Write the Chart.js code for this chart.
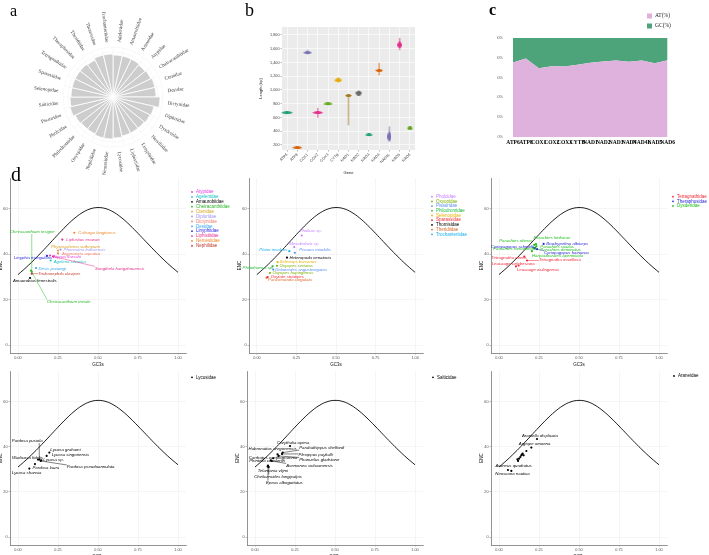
<!DOCTYPE html>
<html>
<head>
<meta charset="utf-8">
<script src="https://cdn.jsdelivr.net/npm/chart.js@4.4.1/dist/chart.umd.min.js"></script>
<style>
body { margin: 0; background: #fff; }
#page { position: relative; width: 709px; height: 555px; overflow: hidden; background: #fff; }
canvas { position: absolute; }
.tag { position: absolute; z-index: 5; font-family: "Liberation Serif", serif; color: #000; line-height: 1; }
</style>
</head>
<body>
<div id="page">
  <div class="tag" style="left:10px;top:3px;font-size:16px">a</div>
  <div class="tag" style="left:245px;top:1px;font-size:18px">b</div>
  <div class="tag" style="left:489px;top:2px;font-size:16px;font-weight:bold">c</div>
  <div class="tag" style="left:11px;top:164px;font-size:20px">d</div>
</div>
<script>
// ---- panel a: families ----
var spiderFamilies = ["Agelenidae", "Amaurobiidae", "Araneidae", "Atypidae", "Cheiracanthiidae", "Ctenidae",
    "Desidae", "Dictynidae", "Dipluridae", "Dysderidae", "Hersiliidae", "Linyphiidae", "Liphistiidae",
    "Lycosidae", "Nemesiidae", "Nephilidae", "Oxyopidae", "Philodromidae", "Pholcidae", "Pisauridae",
    "Salticidae", "Selenopidae", "Sparassidae", "Tetragnathidae", "Theraphosidae", "Theridiidae",
    "Thomisidae", "Trochanteriidae"];
var familyBarValues = [42, 42, 42, 41, 42, 43, 43, 47, 42, 41, 40, 40, 40, 41, 42, 42, 41, 41, 42, 44,
    43, 42, 42, 42, 42, 41, 43, 43];

// ---- panel b: gene lengths ----
var genes = ["ATP6", "ATP8", "COX1", "COX2", "COX3", "CYTB", "NAD1", "NAD2", "NAD3", "NAD4", "NAD4L", "NAD5", "NAD6"];
var lengthMedian = [670, 161, 1543, 670, 797, 1141, 918, 956, 346, 1286, 321, 1655, 443];
var lengthMin = [650, 150, 1520, 600, 780, 1110, 491, 930, 330, 1218, 273, 1582, 430];
var lengthMax = [690, 172, 1580, 733, 810, 1180, 935, 990, 365, 1390, 467, 1752, 470];
var lengthTicks = [200, 400, 600, 800, 1000, 1200, 1400, 1600, 1800];

// ---- panel c: base composition ----
var atPercent = [75.3, 79.3, 69.5, 71.5, 71.2, 72.9, 74.9, 76.3, 77.3, 75.9, 77.3, 74.6, 77.6];
var gcPercent = [24.7, 20.7, 30.5, 28.5, 28.8, 27.1, 25.1, 23.7, 22.7, 24.1, 22.7, 25.4, 22.4];
var percentTicks = [0, 20, 40, 60, 80, 100];

// ---- panel d: expected ENC curve and species ----
var gc3Curve = [0, 0.05, 0.1, 0.15, 0.2, 0.25, 0.3, 0.35, 0.4, 0.45, 0.5, 0.55, 0.6, 0.65, 0.7, 0.75, 0.8, 0.85, 0.9, 0.95, 1];
var encCurve = [31.0, 34.09, 37.47, 41.08, 44.85, 48.65, 52.3, 55.56, 58.17, 59.88, 60.5, 59.98, 58.37, 55.86,
    52.7, 49.15, 45.45, 41.78, 38.27, 34.99, 32.0];
var gc3Ticks = [0, 0.25, 0.5, 0.75, 1];
var encTicks = [0, 20, 40, 60];

var tlFamilies = ["Atypidae", "Agelenidae", "Amaurobiidae", "Cheiracanthiidae", "Ctenidae", "Dipluridae",
    "Dictynidae", "Desidae", "Linyphiidae", "Liphistiidae", "Nemesiidae", "Nephilidae"];
var tlSpecies = ["Calisoga longitarsis", "Liphistius erawan", "Phyxioschema suthepium", "Phoneutria boliviensis",
    "Argyroneta aquatica", "Atypus karschi", "Linyphia triangularis", "Agelena silvatica", "Songthela hangzhouensis",
    "Desis jiaxiangi", "Trichonephila clavipes", "Amaurobius fenestralis", "Cheiracanthium insigne",
    "Cheiracanthium triviale"];
var tlFamilyOf = [10, 9, 4, 5, 6, 0, 8, 1, 9, 7, 11, 2, 3, 3];
var tlGC3s = [0.352, 0.277, 0.25, 0.266, 0.25, 0.2, 0.181, 0.204, 0.219, 0.1125, 0.086, 0.075, 0.086, 0.081];
var tlENC = [49.4, 46.4, 41.6, 42.0, 40.3, 39.4, 39.2, 37.2, 39.0, 33.9, 31.4, 29.5, 32.2, 32.8];

var tmFamilies = ["Pholcidae", "Oxyopidae", "Pisauridae", "Philodromidae", "Selenopidae", "Sparassidae",
    "Thomisidae", "Theridiidae", "Trochanteriidae"];
var tmSpecies = ["Pholcus sp.", "Mesabolivar sp.", "Pisaura mirabilis", "Plator insolens", "Heteropoda venatoria",
    "Selenops bursarius", "Oxyopes sertatus", "Philodromus sp.", "Dolomedes angustivirgatus", "Oxyopes hupingensis",
    "Oxytate striatipes", "Parasteatoda cingulata"];
var tmFamilyOf = [0, 0, 2, 8, 6, 4, 1, 3, 2, 1, 5, 7];
var tmGC3s = [0.283, 0.236, 0.24, 0.205, 0.19, 0.131, 0.127, 0.099, 0.103, 0.082, 0.068, 0.061];
var tmENC = [48.2, 43.1, 40.6, 41.3, 38.5, 36.5, 34.9, 34.6, 33.2, 31.7, 29.9, 29.6];

var trFamilies = ["Tetragnathidae", "Theraphosidae", "Dysderidae"];
var trSpecies = ["Brachypelma albiceps", "Cyriopagopus schmidti", "Cyriopagopus hainanus", "Parachtes riberai",
    "Parachtes limbarae", "Parachtes romandiolae", "Parachtes siculus", "Parachtes deminutus",
    "Harpactocrates apennicola", "Tetragnatha maxillosa", "Tetragnatha nitens", "Leucauge celebesiana",
    "Leucauge wulingensis"];
var trFamilyOf = [1, 1, 1, 2, 2, 2, 2, 2, 2, 0, 0, 0, 0];
var trGC3s = [0.279, 0.223, 0.2375, 0.22, 0.231, 0.214, 0.233, 0.227, 0.206, 0.175, 0.158, 0.123, 0.106];
var trENC = [44.5, 42.6, 42.2, 44.1, 44.4, 42.8, 43.5, 42.8, 41.3, 37.2, 38.9, 35.0, 34.6];

var blFamilies = ["Lycosidae"];
var blSpecies = ["Pardosa pusiola", "Lycosa grahami", "Lycosa singoriensis", "Lycosa sp.", "Wadicosa fidelis",
    "Pardosa laura", "Pardosa pseudoannulata", "Lycosa shansia"];
var blGC3s = [0.133, 0.196, 0.179, 0.146, 0.125, 0.106, 0.142, 0.071];
var blENC = [34.3, 37.4, 35.9, 34.0, 34.3, 32.3, 33.7, 30.3];

var bmFamilies = ["Salticidae"];
var bmSpecies = ["Corythalia opima", "Parabathippus shelfordi", "Habronattus oregonensis", "Plexippus paykulli",
    "Phanuelus gladstone", "Carrhotus xanthogramma", "Phintella cavaleriei", "Asemonea sichuanensis",
    "Telamonia vlijmi", "Cheliceroides longipalpis", "Epeus alboguttatus"];
var bmGC3s = [0.219, 0.173, 0.141, 0.169, 0.148, 0.114, 0.098, 0.104, 0.079, 0.086, 0.081];
var bmENC = [40.3, 37.4, 36.6, 36.8, 35.9, 34.9, 34.0, 33.7, 31.2, 31.0, 31.6];

var brFamilies = ["Araneidae"];
var brSpecies = ["Araniella displicata", "Argiope amoena", "", "", "", "", "", "", "", "", "",
    "Araneus quadratus", "Neoscona nautica"];
var brGC3s = [0.2375, 0.202, 0.171, 0.154, 0.148, 0.144, 0.139, 0.133, 0.125, 0.119, 0.115, 0.056, 0.077];
var brENC = [43.4, 39.6, 38.1, 36.2, 36.9, 36.6, 36.2, 35.4, 34.7, 33.7, 34.4, 29.7, 29.3];

// ---- styles and label placement ----
var dark2 = ["#1B9E77", "#D95F02", "#7570B3", "#E7298A", "#66A61E", "#E6AB02", "#A6761D", "#666666"];
var violinSize = [[12, 3], [10, 3], [9, 3], [11, 3], [10, 3], [8, 4], [7, 3], [7, 5], [8, 3], [8, 3], [4, 11], [5, 7], [6, 4]];
var tlColors = ["#E23DE0", "#1FC0C4", "#000000", "#2DB82D", "#D9A020", "#A597F2", "#F07C70", "#33A6EE",
    "#2A2AE0", "#E5308A", "#EE8A30", "#C0392B"];
var tmColors = ["#C77CFF", "#7CAE00", "#5C8FF0", "#1DB83C", "#E3B400", "#F02C3C", "#000000", "#D96A2B", "#16AEEA"];
var trColors = ["#F02B3A", "#2626D6", "#22C022"];
var tlShift = [[4, 0], [4, 0], [-7, -4], [3, 0], [4, 0], [3, 1], [-33, 2], [3, 1], [42, 12], [2.5, 0.5],
    [6.5, 0.5], [-17, 3], [-22, -40], [16, 31]];
var tmShift = [[-2, -4.5], [-5, -3.5], [4.5, -2.5], [-30, -1.5], [2.5, 0], [2, 0], [2.5, 0], [-30, 1.5],
    [2, 0], [2.5, 0], [3, 0], [1.5, 2.5]];
var trShift = [[2.5, 0], [-44, -1], [7, 3.5], [-35, -4.5], [-2.5, -6.5], [-40, 1.5], [4, 0.5], [5, 2],
    [0, 4.5], [12, -0.5], [-33, 1.5], [-27, -1.5], [1, 3.5]];
var blShift = [[-27.5, -18.5], [1, -2.5], [5, -1.5], [2, -0.5], [-26, -1.5], [-2.5, 3.5], [26, 6], [-17.5, 4]];
var bmShift = [[-13, -3.5], [16.5, -4.5], [-29, -6], [16.5, 0.5], [20.5, 3.5], [-24.5, -0.5], [-21.5, 0.5],
    [14.5, 4.5], [-10, 4], [-14.5, 9.5], [-2, 17]];
var brShift = [[-15, -3], [-12.5, -4], [0, 0], [0, 0], [0, 0], [0, 0], [0, 0], [0, 0], [0, 0], [0, 0], [0, 0],
    [-12.5, -4.5], [-16, 2.5]];

Chart.defaults.font.family = '"Liberation Sans", Arial, sans-serif';
Chart.defaults.animation = false;
Chart.defaults.plugins.legend.display = false;
Chart.defaults.plugins.tooltip.enabled = false;

function addCanvas(left, top, w, h) {
    var c = document.createElement("canvas");
    c.width = w;
    c.height = h;
    c.style.left = left + "px";
    c.style.top = top + "px";
    c.style.width = w + "px";
    c.style.height = h + "px";
    document.getElementById("page").appendChild(c);
    return c;
}

function withAlpha(hex, a) {
    var n = parseInt(hex.slice(1), 16);
    return "rgba(" + (n >> 16) + "," + ((n >> 8) & 255) + "," + (n & 255) + "," + a + ")";
}

// ---------------- panel a ----------------
var radialLabels = {
    id: "radialLabels",
    afterDraw: function (chart) {
        var r = chart.scales.r, ctx = chart.ctx;
        var n = chart.data.labels.length, step = 2 * Math.PI / n;
        ctx.save();
        ctx.font = '5px "Liberation Serif", serif';
        ctx.fillStyle = "#3a3a3a";
        ctx.textBaseline = "middle";
        chart.data.labels.forEach(function (lab, i) {
            var th = (i + 0.5) * step;
            var rad = r.drawingArea * 1.1;
            ctx.save();
            ctx.translate(r.xCenter + Math.sin(th) * rad, r.yCenter - Math.cos(th) * rad);
            if (th < Math.PI) {
                ctx.rotate(th - Math.PI / 2);
                ctx.textAlign = "left";
            } else {
                ctx.rotate(th - 1.5 * Math.PI);
                ctx.textAlign = "right";
            }
            ctx.fillText(lab, 0, 0);
            ctx.restore();
        });
        ctx.restore();
    }
};

new Chart(addCanvas(13, 12, 200, 170), {
    type: "polarArea",
    data: {
        labels: spiderFamilies,
        datasets: [{
            data: familyBarValues,
            backgroundColor: "#CDCDCD",
            borderColor: "#FFFFFF",
            borderWidth: 0.8
        }]
    },
    options: {
        responsive: false,
        startAngle: 0,
        layout: { padding: { left: 50, right: 50, top: 35, bottom: 35 } },
        scales: {
            r: {
                min: 0,
                max: 50,
                startAngle: 0,
                ticks: { display: false },
                grid: { color: "#F0F0F0", lineWidth: 0.5 },
                angleLines: { display: true, color: "#F0F0F0", lineWidth: 0.5 },
                pointLabels: { display: false }
            }
        }
    },
    plugins: [radialLabels]
});

// ---------------- panel b ----------------
function violinShape(color, w, h) {
    var c = document.createElement("canvas");
    c.width = w;
    c.height = h;
    var g = c.getContext("2d");
    g.fillStyle = color;
    g.beginPath();
    if (w >= h) {
        g.moveTo(0, h / 2);
        g.quadraticCurveTo(w / 2, -h / 2, w, h / 2);
        g.quadraticCurveTo(w / 2, 1.5 * h, 0, h / 2);
    } else {
        g.moveTo(w / 2, 0);
        g.quadraticCurveTo(1.5 * w, h / 2, w / 2, h);
        g.quadraticCurveTo(-w / 2, h / 2, w / 2, 0);
    }
    g.fill();
    return c;
}

var geneColors = genes.map(function (g, i) { return dark2[i % dark2.length]; });
var violins = genes.map(function (g, i) {
    return violinShape(geneColors[i], violinSize[i][0], violinSize[i][1]);
});

var panelBackground = {
    id: "panelBackground",
    beforeDraw: function (chart, args, opts) {
        var a = chart.chartArea, ctx = chart.ctx;
        ctx.save();
        ctx.fillStyle = opts.color;
        ctx.fillRect(a.left, a.top, a.right - a.left, a.bottom - a.top);
        ctx.restore();
    }
};

new Chart(addCanvas(258, 22, 162, 153), {
    type: "bar",
    data: {
        labels: genes,
        datasets: [
            {
                type: "bar",
                data: genes.map(function (g, i) { return [lengthMin[i], lengthMax[i]]; }),
                backgroundColor: geneColors.map(function (c) { return withAlpha(c, 0.5); }),
                borderWidth: 0,
                barThickness: 1,
                order: 2
            },
            {
                type: "line",
                data: lengthMedian,
                showLine: false,
                pointStyle: violins,
                pointRadius: 3,
                order: 1
            }
        ]
    },
    options: {
        responsive: false,
        layout: { padding: { left: 0, right: 5, top: 5, bottom: 0 } },
        plugins: { panelBackground: { color: "#EBEBEB" } },
        scales: {
            x: {
                grid: { color: "#FFFFFF", lineWidth: 0.6, offset: false, drawTicks: true, tickLength: 1.5, tickColor: "#888" },
                border: { display: false },
                ticks: { font: { size: 3.8 }, color: "#444", minRotation: 45, maxRotation: 45, autoSkip: false, padding: 1 },
                title: { display: true, text: "Gene", font: { size: 4 }, color: "#222", padding: { top: 1, bottom: 0 } },
                afterFit: function (s) { s.height = 25; }
            },
            y: {
                min: 127,
                max: 1916,
                afterBuildTicks: function (s) { s.ticks = lengthTicks.map(function (v) { return { value: v }; }); },
                grid: { color: "#FFFFFF", lineWidth: 0.6, tickLength: 1.5, tickColor: "#888" },
                border: { display: false },
                ticks: { font: { size: 3.8 }, color: "#444", padding: 1 },
                title: { display: true, text: "Length (bp)", font: { size: 4 }, color: "#222", padding: 0 },
                afterFit: function (s) { s.width = 24; }
            }
        }
    },
    plugins: [panelBackground]
});

// ---------------- panel c ----------------
var stackLegend = {
    id: "stackLegend",
    afterDraw: function (chart, args, opts) {
        var ctx = chart.ctx;
        ctx.save();
        ctx.font = '5.5px "Liberation Serif", serif';
        ctx.textBaseline = "middle";
        chart.data.datasets.forEach(function (ds, i) {
            var y = opts.y0 + i * opts.step;
            ctx.fillStyle = ds.backgroundColor;
            ctx.fillRect(opts.x, y - 2.5, 5, 5);
            ctx.fillStyle = "#222";
            ctx.fillText(ds.label, opts.x + 8, y);
        });
        ctx.restore();
    }
};

new Chart(addCanvas(497, 10, 180, 137), {
    type: "line",
    data: {
        labels: genes,
        datasets: [
            { label: "AT(%)", data: atPercent, fill: "origin", backgroundColor: "#DFB2DD", borderWidth: 0, pointRadius: 0, tension: 0 },
            { label: "GC(%)", data: gcPercent, fill: "-1", backgroundColor: "#4DA47B", borderWidth: 0, pointRadius: 0, tension: 0 }
        ]
    },
    options: {
        responsive: false,
        layout: { padding: { left: 0, right: 4, top: 28, bottom: 0 } },
        plugins: { stackLegend: { x: 150, y0: 6, step: 10 } },
        scales: {
            x: {
                z: 1,
                grid: { color: "rgba(255,255,255,0.95)", lineWidth: 1, drawTicks: false },
                border: { display: false, dash: [3, 2] },
                ticks: { font: { family: '"Liberation Serif", serif', size: 5.5, weight: "bold" }, color: "#000", maxRotation: 0, autoSkip: false, padding: 2 },
                afterFit: function (s) { s.height = 10; }
            },
            y: {
                stacked: true,
                min: 0,
                max: 100,
                afterBuildTicks: function (s) { s.ticks = percentTicks.map(function (v) { return { value: v }; }); },
                grid: { display: false },
                border: { display: false },
                ticks: { font: { size: 3.8 }, color: "#666", padding: 2, callback: function (v) { return v + "%"; } },
                afterFit: function (s) { s.width = 16; }
            }
        }
    },
    plugins: [stackLegend]
});

// ---------------- panel d ----------------
var speciesLabels = {
    id: "speciesLabels",
    afterDatasetsDraw: function (chart) {
        var ctx = chart.ctx;
        ctx.save();
        ctx.font = 'italic 4.3px "Liberation Sans", Arial, sans-serif';
        ctx.textBaseline = "middle";
        chart.data.datasets.forEach(function (ds, d) {
            if (!ds.names) return;
            chart.getDatasetMeta(d).data.forEach(function (pt, j) {
                var name = ds.names[j];
                if (!name) return;
                var tx = pt.x + ds.shifts[j][0], ty = pt.y + ds.shifts[j][1];
                var w = ctx.measureText(name).width;
                var cx = Math.min(Math.max(pt.x, tx), tx + w);
                var cy = Math.min(Math.max(pt.y, ty - 2), ty + 2);
                if (Math.hypot(cx - pt.x, cy - pt.y) > 6) {
                    ctx.strokeStyle = ds.backgroundColor;
                    ctx.lineWidth = 0.5;
                    ctx.beginPath();
                    ctx.moveTo(pt.x, pt.y);
                    ctx.lineTo(cx, cy);
                    ctx.stroke();
                }
                ctx.fillStyle = ds.backgroundColor;
                ctx.fillText(name, tx, ty);
            });
        });
        ctx.restore();
    }
};

var sideLegend = {
    id: "sideLegend",
    afterDraw: function (chart, args, opts) {
        var ctx = chart.ctx, x = chart.chartArea.right + opts.dx;
        ctx.save();
        ctx.font = '4.5px "Liberation Sans", Arial, sans-serif';
        ctx.textBaseline = "middle";
        opts.items.forEach(function (it, i) {
            var y = opts.y0 + i * opts.step;
            ctx.fillStyle = it.color;
            ctx.beginPath();
            ctx.arc(x, y, 0.9, 0, Math.PI * 2);
            ctx.fill();
            ctx.fillText(it.text, x + 4, y);
        });
        ctx.restore();
    }
};

function scatterPanel(p) {
    var left = p.box.l - 12, top = p.box.t - 3;
    var canvas = addCanvas(left, top, p.right - left, p.box.b + 14 - top);
    var datasets = [{
        label: "expected",
        data: gc3Curve.map(function (g, i) { return { x: g, y: encCurve[i] }; }),
        showLine: true,
        borderColor: "#1E1E1E",
        borderWidth: 1,
        pointRadius: 0,
        tension: 0.4,
        order: 2
    }];
    p.families.forEach(function (f, k) {
        var idx = p.species.map(function (s, i) { return i; })
            .filter(function (i) { return (p.familyOf ? p.familyOf[i] : 0) === k; });
        datasets.push({
            label: f,
            data: idx.map(function (i) { return { x: p.gc3s[i], y: p.enc[i] }; }),
            names: idx.map(function (i) { return p.species[i]; }),
            shifts: idx.map(function (i) { return p.shift[i]; }),
            backgroundColor: p.colors[k],
            borderWidth: 0,
            pointRadius: 1.1,
            order: 1
        });
    });
    new Chart(canvas, {
        type: "scatter",
        data: { datasets: datasets },
        options: {
            responsive: false,
            layout: { padding: { left: 0, top: 3, right: p.right - p.box.r, bottom: 0 } },
            plugins: {
                sideLegend: {
                    dx: p.legend.dx,
                    y0: p.legend.y0 - top,
                    step: p.legend.step,
                    items: p.families.map(function (f, k) { return { text: f, color: p.colors[k] }; })
                }
            },
            scales: {
                x: {
                    type: "linear",
                    min: -0.05,
                    max: 1.05,
                    afterBuildTicks: function (s) { s.ticks = gc3Ticks.map(function (v) { return { value: v }; }); },
                    grid: { color: "#EBEBEB", lineWidth: 0.5, tickLength: 1.5, tickColor: "#777" },
                    border: { color: "#777", width: 0.8 },
                    ticks: { font: { size: 3.8 }, color: "#555", padding: 1, callback: function (v) { return v.toFixed(2); } },
                    title: { display: true, text: "GC3s", font: { size: 4.5 }, color: "#111", padding: 0 },
                    afterFit: function (s) { s.height = 14; }
                },
                y: {
                    min: -3.5,
                    max: 73.5,
                    afterBuildTicks: function (s) { s.ticks = encTicks.map(function (v) { return { value: v }; }); },
                    grid: { color: "#EBEBEB", lineWidth: 0.5, tickLength: 1.5, tickColor: "#777" },
                    border: { color: "#777", width: 0.8 },
                    ticks: { font: { size: 3.8 }, color: "#555", padding: 1 },
                    title: { display: true, text: "ENC", font: { size: 4.5 }, color: "#111", padding: 0 },
                    afterFit: function (s) { s.width = 12; }
                }
            }
        },
        plugins: [speciesLabels, sideLegend]
    });
}

scatterPanel({ box: { l: 10, t: 177, r: 186, b: 353 }, right: 236, families: tlFamilies, colors: tlColors,
    species: tlSpecies, familyOf: tlFamilyOf, gc3s: tlGC3s, enc: tlENC, shift: tlShift,
    legend: { dx: 6, y0: 192, step: 4.9 } });
scatterPanel({ box: { l: 249, t: 177, r: 423, b: 353 }, right: 472, families: tmFamilies, colors: tmColors,
    species: tmSpecies, familyOf: tmFamilyOf, gc3s: tmGC3s, enc: tmENC, shift: tmShift,
    legend: { dx: 9, y0: 196.7, step: 4.7 } });
scatterPanel({ box: { l: 491, t: 177, r: 667, b: 353 }, right: 709, families: trFamilies, colors: trColors,
    species: trSpecies, familyOf: trFamilyOf, gc3s: trGC3s, enc: trENC, shift: trShift,
    legend: { dx: 6, y0: 196.7, step: 4.6 } });
scatterPanel({ box: { l: 10, t: 370, r: 186, b: 545 }, right: 236, families: blFamilies, colors: ["#000000"],
    species: blSpecies, gc3s: blGC3s, enc: blENC, shift: blShift,
    legend: { dx: 6, y0: 377.3, step: 4.7 } });
scatterPanel({ box: { l: 247, t: 370, r: 423, b: 545 }, right: 472, families: bmFamilies, colors: ["#000000"],
    species: bmSpecies, gc3s: bmGC3s, enc: bmENC, shift: bmShift,
    legend: { dx: 10, y0: 377.3, step: 4.7 } });
scatterPanel({ box: { l: 491, t: 370, r: 667, b: 545 }, right: 709, families: brFamilies, colors: ["#000000"],
    species: brSpecies, gc3s: brGC3s, enc: brENC, shift: brShift,
    legend: { dx: 7, y0: 376, step: 4.7 } });
</script>
</body>
</html>
